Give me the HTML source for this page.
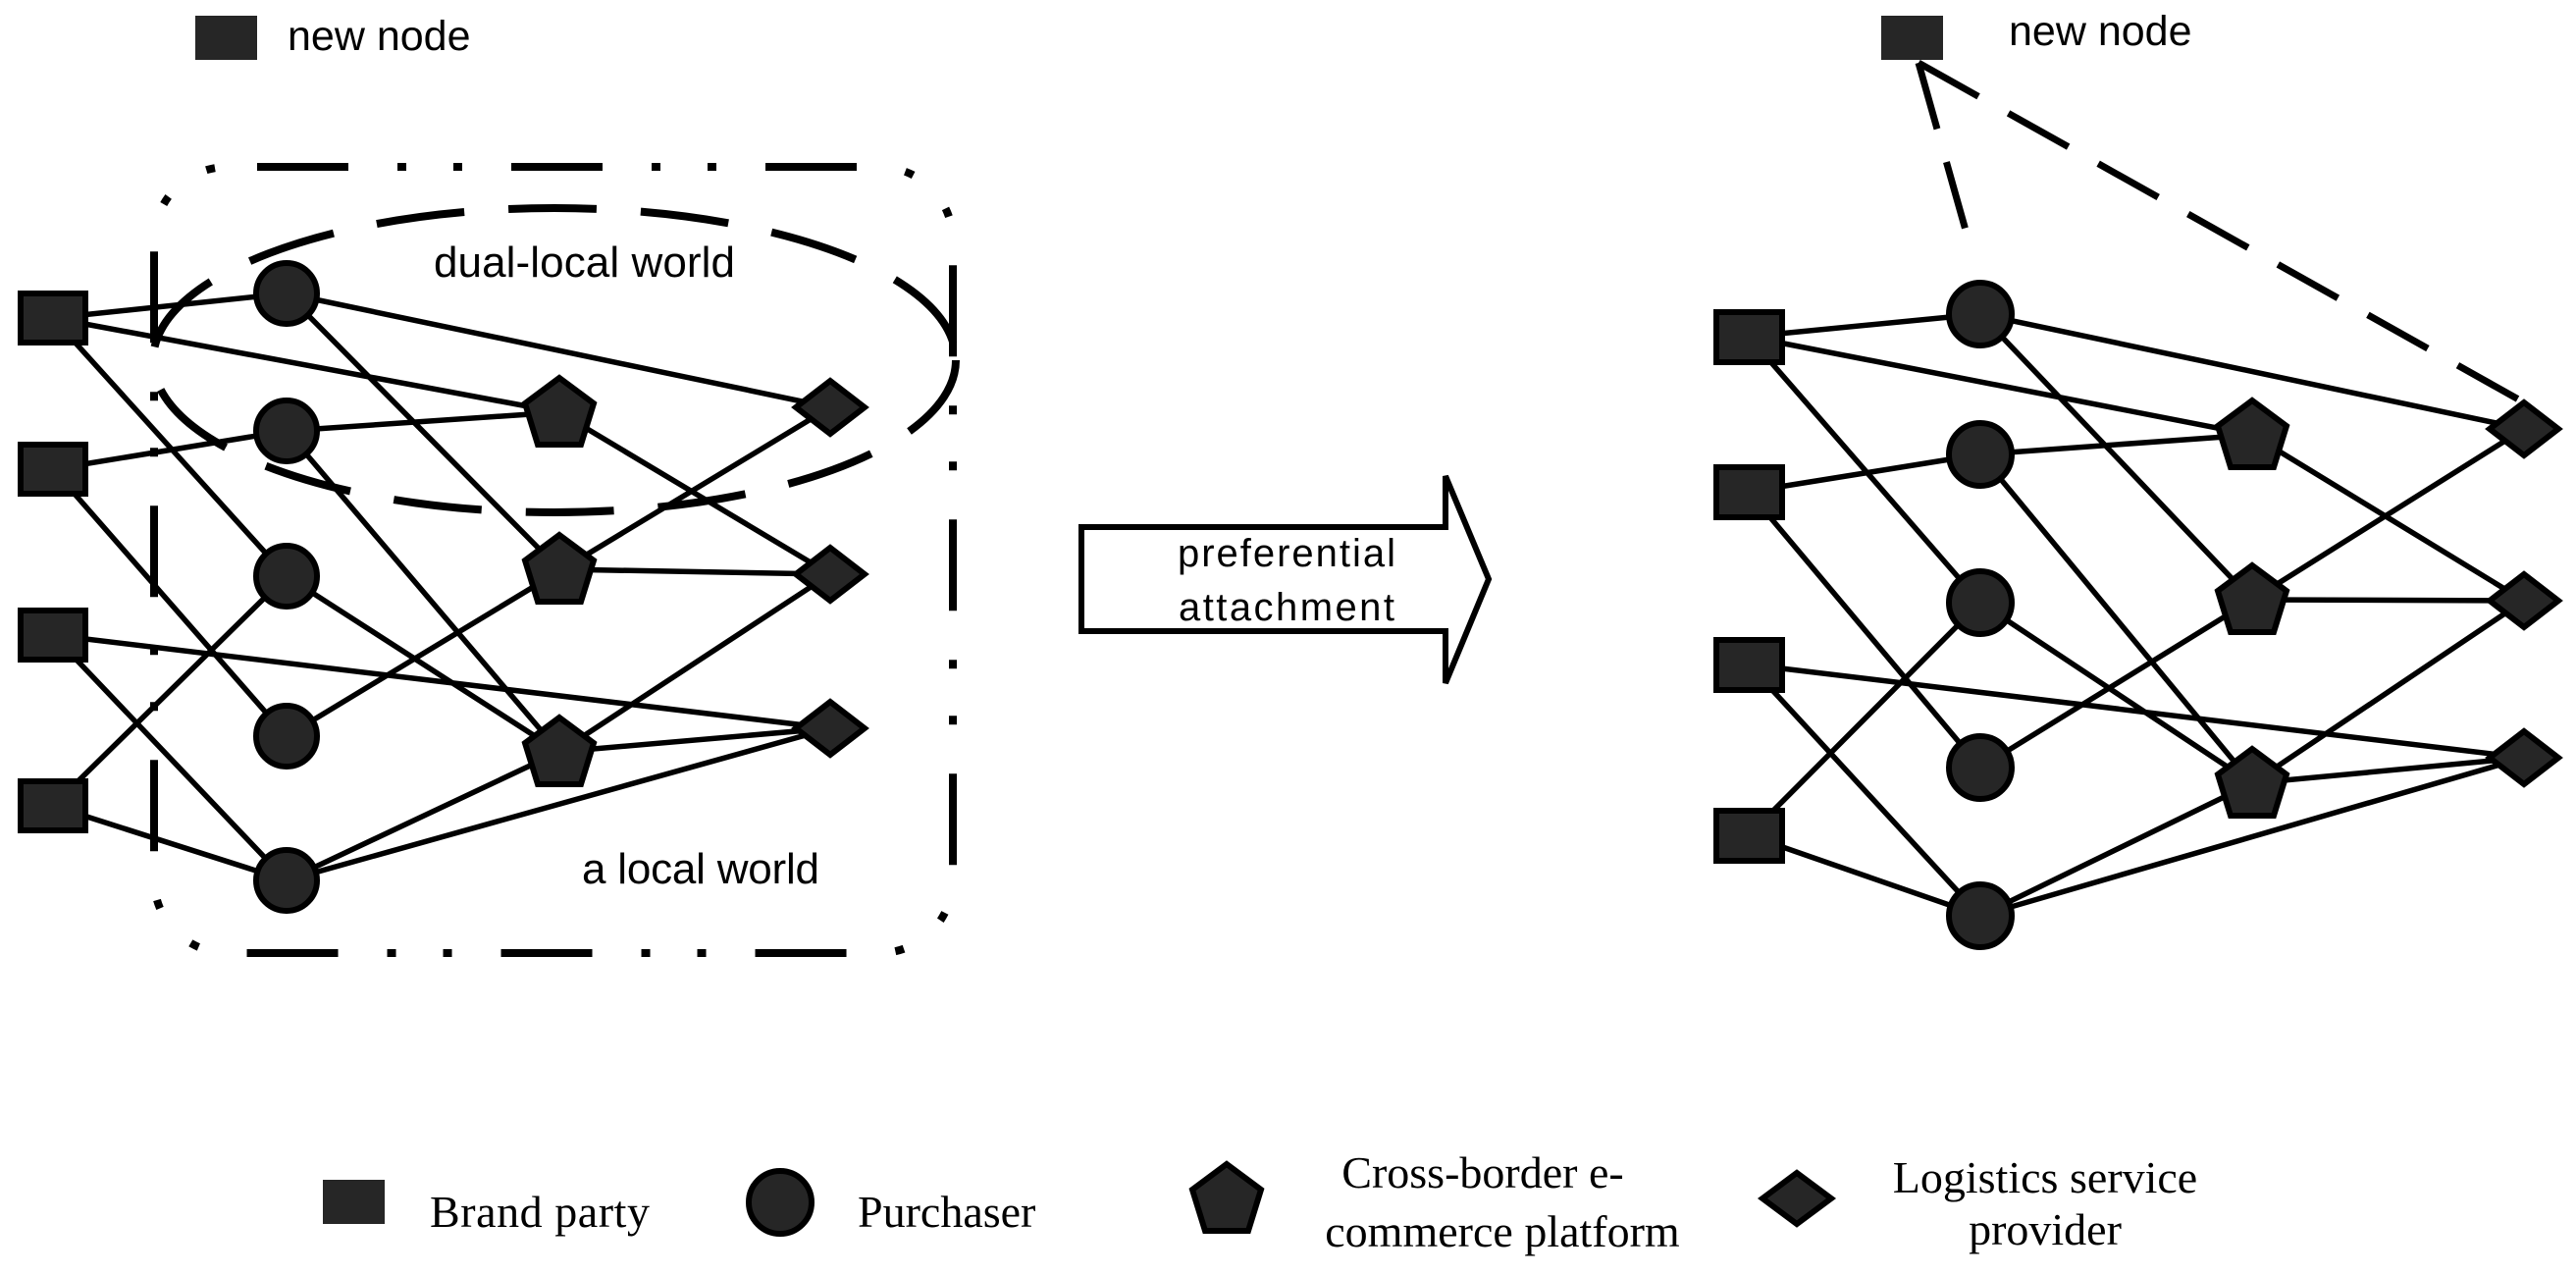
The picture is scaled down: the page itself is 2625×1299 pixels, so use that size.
<!DOCTYPE html>
<html><head><meta charset="utf-8"><style>html,body{margin:0;padding:0;background:#fff}svg{display:block}</style></head>
<body>
<svg width="2625" height="1299" viewBox="0 0 2625 1299" xmlns="http://www.w3.org/2000/svg">
<defs>
<g id="pent"><polygon points="0,-35 35,-9 22,33 -22,33 -35,-9" fill="#262626" stroke="#000" stroke-width="6" stroke-linejoin="miter"/></g>
<g id="dia"><polygon points="-35,0 0,-27 35,0 0,27" fill="#262626" stroke="#000" stroke-width="6"/></g>
</defs>
<g font-family="Liberation Sans, sans-serif" font-size="43" fill="#000">
<rect x="199" y="16" width="63" height="45" fill="#262626"/>
<text x="293" y="51">new node</text>
<rect x="1917" y="16" width="63" height="45" fill="#262626"/>
<text x="2047" y="46">new node</text>
</g>

<!-- LEFT GRAPH -->
<g stroke="#000" stroke-width="5.5" fill="none">
<line x1="54" y1="324" x2="292" y2="299"/>
<line x1="54" y1="324" x2="570" y2="420"/>
<line x1="54" y1="324" x2="292" y2="587"/>
<line x1="54" y1="478" x2="292" y2="439"/>
<line x1="54" y1="478" x2="292" y2="750"/>
<line x1="54" y1="647" x2="846" y2="742"/>
<line x1="54" y1="647" x2="292" y2="897"/>
<line x1="54" y1="821" x2="292" y2="587"/>
<line x1="54" y1="821" x2="292" y2="897"/>
<line x1="292" y1="299" x2="846" y2="415"/>
<line x1="292" y1="299" x2="570" y2="580"/>
<line x1="292" y1="439" x2="570" y2="420"/>
<line x1="292" y1="439" x2="570" y2="766"/>
<line x1="292" y1="587" x2="570" y2="766"/>
<line x1="292" y1="750" x2="846" y2="415"/>
<line x1="292" y1="897" x2="570" y2="766"/>
<line x1="292" y1="897" x2="846" y2="742"/>
<line x1="570" y1="420" x2="846" y2="585"/>
<line x1="570" y1="580" x2="846" y2="585"/>
<line x1="570" y1="766" x2="846" y2="742"/>
<line x1="570" y1="766" x2="846" y2="585"/>
</g>
<g fill="#262626" stroke="#000" stroke-width="6">
<rect x="21" y="299" width="66" height="50"/>
<rect x="21" y="453" width="66" height="50"/>
<rect x="21" y="622" width="66" height="50"/>
<rect x="21" y="796" width="66" height="50"/>
<circle cx="292" cy="299" r="31"/>
<circle cx="292" cy="439" r="31"/>
<circle cx="292" cy="587" r="31"/>
<circle cx="292" cy="750" r="31"/>
<circle cx="292" cy="897" r="31"/>
</g>
<use href="#pent" x="570" y="420"/>
<use href="#pent" x="570" y="580"/>
<use href="#pent" x="570" y="766"/>
<use href="#dia" x="846" y="415"/>
<use href="#dia" x="846" y="585"/>
<use href="#dia" x="846" y="742"/>

<ellipse cx="565" cy="367" rx="409" ry="155" fill="none" stroke="#000" stroke-width="8" stroke-dasharray="90 45"/>
<rect x="157" y="170" width="814" height="801" rx="75" ry="75" fill="none" stroke="#000" stroke-width="8" stroke-dasharray="93 50 9 48 9 50" stroke-dashoffset="-30"/>
<g font-family="Liberation Sans, sans-serif" font-size="44" fill="#000">
<text x="442" y="282" textLength="307">dual-local world</text>
<text x="593" y="900" textLength="242">a local world</text>
</g>

<!-- ARROW -->
<polygon points="1102,537 1473,537 1473,485 1517,590 1473,696 1473,643 1102,643" fill="#fff" stroke="#000" stroke-width="6"/>
<g font-family="Liberation Sans, sans-serif" font-size="40" fill="#000" text-anchor="middle">
<text x="1311" y="577" textLength="222">preferential</text>
<text x="1311" y="632" textLength="220">attachment</text>
</g>

<!-- RIGHT GRAPH -->
<g stroke="#000" stroke-width="7" fill="none" stroke-dasharray="70 35">
<line x1="1955" y1="64" x2="2011" y2="263"/>
<line x1="1955" y1="64" x2="2579" y2="414"/>
</g>
<g stroke="#000" stroke-width="5.5" fill="none">
<line x1="1782" y1="343" x2="2018" y2="320"/>
<line x1="1782" y1="343" x2="2295" y2="443"/>
<line x1="1782" y1="343" x2="2018" y2="614"/>
<line x1="1782" y1="501" x2="2018" y2="463"/>
<line x1="1782" y1="501" x2="2018" y2="782"/>
<line x1="1782" y1="677" x2="2572" y2="772"/>
<line x1="1782" y1="677" x2="2018" y2="933"/>
<line x1="1782" y1="851" x2="2018" y2="614"/>
<line x1="1782" y1="851" x2="2018" y2="933"/>
<line x1="2018" y1="320" x2="2572" y2="437"/>
<line x1="2018" y1="320" x2="2295" y2="611"/>
<line x1="2018" y1="463" x2="2295" y2="443"/>
<line x1="2018" y1="463" x2="2295" y2="798"/>
<line x1="2018" y1="614" x2="2295" y2="798"/>
<line x1="2018" y1="782" x2="2295" y2="611"/>
<line x1="2295" y1="611" x2="2572" y2="437"/>
<line x1="2018" y1="933" x2="2295" y2="798"/>
<line x1="2018" y1="933" x2="2572" y2="772"/>
<line x1="2295" y1="443" x2="2572" y2="612"/>
<line x1="2295" y1="611" x2="2572" y2="612"/>
<line x1="2295" y1="798" x2="2572" y2="772"/>
<line x1="2295" y1="798" x2="2572" y2="612"/>
</g>
<g fill="#262626" stroke="#000" stroke-width="6">
<rect x="1749" y="318" width="67" height="51"/>
<rect x="1749" y="476" width="67" height="51"/>
<rect x="1749" y="652" width="67" height="51"/>
<rect x="1749" y="826" width="67" height="51"/>
<circle cx="2018" cy="320" r="32"/>
<circle cx="2018" cy="463" r="32"/>
<circle cx="2018" cy="614" r="32"/>
<circle cx="2018" cy="782" r="32"/>
<circle cx="2018" cy="933" r="32"/>
</g>
<use href="#pent" x="2295" y="443"/>
<use href="#pent" x="2295" y="611"/>
<use href="#pent" x="2295" y="798"/>
<use href="#dia" x="2572" y="437"/>
<use href="#dia" x="2572" y="612"/>
<use href="#dia" x="2572" y="772"/>

<!-- LEGEND -->
<rect x="329" y="1202" width="63" height="45" fill="#262626"/>
<ellipse cx="795" cy="1225" rx="32" ry="32" fill="#262626" stroke="#000" stroke-width="6"/>
<polygon points="1250,1186 1285,1212 1272,1254 1228,1254 1215,1212" fill="#262626" stroke="#000" stroke-width="6"/>
<polygon points="1796,1221 1831,1195 1866,1221 1831,1247" fill="#262626" stroke="#000" stroke-width="6"/>
<g font-family="Liberation Serif, serif" font-size="46" fill="#000">
<text x="438" y="1250" textLength="224">Brand party</text>
<text x="874" y="1250">Purchaser</text>
<text x="1511" y="1210" text-anchor="middle">Cross-border e-</text>
<text x="1531" y="1270" text-anchor="middle">commerce platform</text>
<text x="2084" y="1215" text-anchor="middle">Logistics service</text>
<text x="2084" y="1268" text-anchor="middle">provider</text>
</g>
</svg>
</body></html>
